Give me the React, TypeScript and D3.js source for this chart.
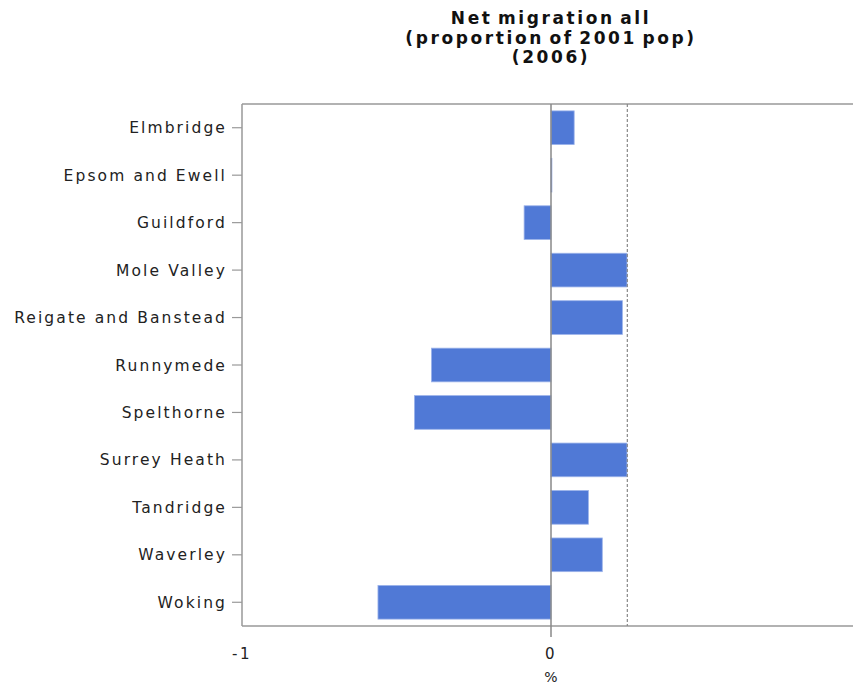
import React, { useEffect, useRef } from "react";
import * as d3 from "d3";

// districts, top to bottom
const districts = [
    "Elmbridge",
    "Epsom and Ewell",
    "Guildford",
    "Mole Valley",
    "Reigate and Banstead",
    "Runnymede",
    "Spelthorne",
    "Surrey Heath",
    "Tandridge",
    "Waverley",
    "Woking",
];

// net migration, % of 2001 population
const netMigration = [0.075, 0.003, -0.087, 0.246, 0.231, -0.387, -0.442, 0.246, 0.121, 0.166, -0.56];

const xTicks = [-1, 0];
const referenceValue = 0.247;
const titleLines = ["Net migration all", "(proportion of 2001 pop)", "(2006)"];
const xLabel = "%";

const App: React.FC = () => {
    const svgRef = useRef<SVGSVGElement>(null);
    const width = 853;
    const height = 684;

    useEffect(() => {
        if (!svgRef.current) return;
        const svg = d3.select(svgRef.current);
        svg.selectAll("*").remove();

        const margin = { top: 104, left: 242, bottom: 58 };
        const plotRight = 860; // chart is cut off at the right edge
        const plotBottom = height - margin.bottom;
        const font = "'DejaVu Sans', Verdana, sans-serif";
        const axisColor = "#999";

        const xScale = d3.scaleLinear().domain([-1, 1]).range([margin.left, plotRight]);
        const yScale = d3
            .scaleBand<string>()
            .domain(districts)
            .range([margin.top, plotBottom])
            .paddingInner(0.29)
            .paddingOuter(0.145);

        // title
        svg.append("text")
            .attr("x", xScale(0))
            .attr("text-anchor", "middle")
            .style("font-family", font)
            .style("font-weight", "bold")
            .style("font-size", "17px")
            .style("letter-spacing", "2.6px")
            .style("word-spacing", "-3px")
            .attr("fill", "#111")
            .selectAll("tspan")
            .data(titleLines)
            .join("tspan")
            .attr("x", xScale(0))
            .attr("y", (d, i) => 24 + i * 19.5)
            .text(d => d);

        // bars
        svg.append("g")
            .selectAll("rect")
            .data(districts)
            .join("rect")
            .attr("x", (d, i) => xScale(Math.min(0, netMigration[i])))
            .attr("y", d => yScale(d)!)
            .attr("width", (d, i) => Math.abs(xScale(netMigration[i]) - xScale(0)))
            .attr("height", yScale.bandwidth())
            .attr("fill", "#5079d6")
            .attr("stroke", "#9cb3ea")
            .attr("stroke-width", 0.8);

        // frame: top, left, bottom
        const frame = svg.append("g").attr("stroke", axisColor).attr("stroke-width", 1.5).attr("fill", "none");
        frame.append("line").attr("x1", margin.left).attr("x2", width).attr("y1", margin.top).attr("y2", margin.top);
        frame.append("line").attr("x1", margin.left).attr("x2", margin.left).attr("y1", margin.top).attr("y2", plotBottom);
        frame.append("line").attr("x1", margin.left).attr("x2", width).attr("y1", plotBottom).attr("y2", plotBottom);

        // zero line, running down as the tick
        svg.append("line")
            .attr("x1", xScale(0))
            .attr("x2", xScale(0))
            .attr("y1", margin.top)
            .attr("y2", plotBottom + 11)
            .attr("stroke", "#888")
            .attr("stroke-width", 1.5);

        // reference line
        svg.append("line")
            .attr("x1", xScale(referenceValue))
            .attr("x2", xScale(referenceValue))
            .attr("y1", margin.top)
            .attr("y2", plotBottom)
            .attr("stroke", "#888")
            .attr("stroke-width", 1.2)
            .attr("stroke-dasharray", "3,2");

        // y axis ticks and labels
        const yAxis = svg.append("g");
        yAxis.selectAll("line")
            .data(districts)
            .join("line")
            .attr("x1", margin.left - 10)
            .attr("x2", margin.left)
            .attr("y1", d => yScale(d)! + yScale.bandwidth() / 2)
            .attr("y2", d => yScale(d)! + yScale.bandwidth() / 2)
            .attr("stroke", axisColor)
            .attr("stroke-width", 1.2);
        yAxis.selectAll("text")
            .data(districts)
            .join("text")
            .attr("x", margin.left - 15)
            .attr("y", d => yScale(d)! + yScale.bandwidth() / 2)
            .attr("dy", "0.36em")
            .attr("text-anchor", "end")
            .attr("fill", "#222")
            .style("font-family", font)
            .style("font-size", "15.5px")
            .style("letter-spacing", "2.1px")
            .text(d => d);

        // x tick labels
        svg.append("g")
            .selectAll("text")
            .data(xTicks)
            .join("text")
            .attr("x", d => xScale(d))
            .attr("y", plotBottom + 33)
            .attr("text-anchor", "middle")
            .attr("fill", "#222")
            .style("font-family", font)
            .style("font-size", "15px")
            .style("letter-spacing", "2.5px")
            .text(d => String(d));

        svg.append("text")
            .attr("x", xScale(0))
            .attr("y", plotBottom + 56)
            .attr("text-anchor", "middle")
            .attr("fill", "#222")
            .style("font-family", font)
            .style("font-size", "14px")
            .text(xLabel);
    }, []);

    return (
        <svg
            ref={svgRef}
            width={width}
            height={height}
            style={{ position: "absolute", left: 0, top: 0, background: "#fff" }}
        ></svg>
    );
};

export default App;
